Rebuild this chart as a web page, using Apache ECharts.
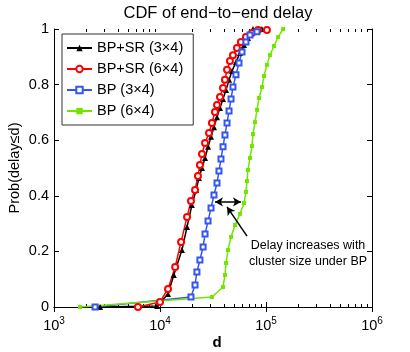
<!DOCTYPE html>
<html>
<head>
<meta charset="utf-8">
<script src="https://cdn.jsdelivr.net/npm/echarts@6/dist/echarts.min.js"></script>
<style>
  html, body { margin: 0; padding: 0; background: #fff; }
  #chart { width: 410px; height: 352px; }
</style>
</head>
<body>
<div id="chart"></div>
<script>
// 数据：横轴为时延 d，纵轴为累积概率
const seriesNames = ['BP+SR (3×4)', 'BP+SR (6×4)', 'BP (3×4)', 'BP (6×4)'];

const bpsr34D = [2720, 9380, 11900, 13500, 16100, 18000, 20000, 21900, 23300, 24900, 26600, 28400, 30300, 32300, 34500, 36800, 39300, 42000, 44800, 47800, 52100, 56800, 62000, 67600, 75400, 91600];
const bpsr34P = [0, 0.004, 0.047, 0.115, 0.205, 0.288, 0.367, 0.421, 0.464, 0.5, 0.536, 0.576, 0.612, 0.647, 0.683, 0.716, 0.748, 0.781, 0.817, 0.849, 0.881, 0.914, 0.942, 0.968, 1.0, 1.0];

const bpsr64D = [6200, 10000, 11900, 13900, 15800, 18000, 19600, 21400, 22800, 23800, 24900, 26600, 29000, 30900, 33000, 34500, 36800, 39300, 41000, 42900, 45700, 48800, 53200, 58000, 64700, 73700, 84100, 102000];
const bpsr64P = [0, 0.018, 0.065, 0.144, 0.234, 0.324, 0.381, 0.421, 0.471, 0.511, 0.55, 0.59, 0.626, 0.662, 0.701, 0.727, 0.755, 0.788, 0.817, 0.853, 0.885, 0.906, 0.932, 0.953, 0.971, 0.986, 0.996, 0.996];

const bp34D = [2440, 19600, 21400, 22300, 23800, 25500, 26600, 28400, 30300, 32300, 34500, 36000, 37600, 39300, 41000, 42900, 44800, 46800, 48800, 52100, 55600, 59400, 64700, 70600, 82200];
const bp34P = [0, 0.036, 0.079, 0.126, 0.169, 0.216, 0.263, 0.309, 0.356, 0.403, 0.446, 0.489, 0.532, 0.576, 0.619, 0.662, 0.705, 0.748, 0.791, 0.835, 0.878, 0.917, 0.953, 0.978, 0.99];

const bp64D = [1760, 30900, 39300, 41000, 42000, 43800, 46800, 51000, 56800, 62000, 64700, 66200, 67600, 70600, 73700, 75400, 78800, 82200, 85900, 91700, 95800, 102000, 109000, 119000, 130000, 145000];
const bp64P = [0, 0.036, 0.072, 0.115, 0.158, 0.205, 0.252, 0.295, 0.335, 0.374, 0.414, 0.453, 0.493, 0.536, 0.579, 0.622, 0.665, 0.709, 0.752, 0.791, 0.831, 0.871, 0.906, 0.939, 0.971, 1.0];

// 刻度
const xMajorTicks = [1e3, 1e4, 1e5, 1e6];
const xMinorTicks = [];
[1e3, 1e4, 1e5].forEach(base => {
    for (let k = 2; k <= 9; k++) xMinorTicks.push(base * k);
});
const yTicks = [0, 0.2, 0.4, 0.6, 0.8, 1];

// 标注（数据坐标）
const spanArrow = [[33000, 0.378], [58000, 0.378]];
const pointerArrow = [[66200, 0.255], [42900, 0.36]];
const noteText = 'Delay increases with\ncluster size under BP';

const FONT = 'Liberation Sans, Arial, sans-serif';

const zip = (xs, ys) => xs.map((x, i) => [x, ys[i]]);

const chart = echarts.init(document.getElementById('chart'), null, { renderer: 'canvas' });

const gridBox = { left: 54, right: 38, top: 29, bottom: 45, outerBoundsMode: 'none', containLabel: false };

const logXBase = {
    type: 'log',
    logBase: 10,
    min: 1e3,
    max: 1e6,
    splitLine: { show: false },
    minorTick: { show: false },
    minorSplitLine: { show: false }
};

const option = {
    animation: false,
    backgroundColor: '#fff',
    title: {
        text: 'CDF of end\u2212to\u2212end delay',
        left: 213,
        textAlign: 'center',
        top: 0,
        textStyle: { fontFamily: FONT, fontSize: 16.5, fontWeight: 'normal', color: '#000' }
    },
    legend: {
        orient: 'vertical',
        left: 62,
        top: 34,
        padding: [6, 10, 6, 4],
        itemWidth: 25,
        itemHeight: 8,
        itemGap: 5,
        backgroundColor: '#fff',
        borderColor: '#333',
        borderWidth: 1,
        borderRadius: 0,
        textStyle: { fontFamily: FONT, fontSize: 14.5, color: '#000', lineHeight: 16 },
        data: seriesNames
    },
    grid: [gridBox, Object.assign({}, gridBox)],
    xAxis: [
        Object.assign({}, logXBase, {
            gridIndex: 0,
            position: 'bottom',
            name: 'd',
            nameLocation: 'middle',
            nameGap: 16,
            nameMoveOverlap: false,
            nameTextStyle: { fontFamily: FONT, fontSize: 15, fontWeight: 'bold', color: '#000', padding: [12, 0, 0, 8] },
            axisLine: { show: true, lineStyle: { color: '#000', width: 1 } },
            axisTick: { show: true, inside: true, length: 5, lineStyle: { color: '#000' } },
            axisLabel: {
                show: true,
                margin: 9,
                formatter: v => '{b|10}{s|' + Math.round(Math.log10(v)) + '}',
                rich: {
                    b: { fontFamily: FONT, fontSize: 14.5, color: '#000', verticalAlign: 'bottom' },
                    s: { fontFamily: FONT, fontSize: 10, color: '#000', verticalAlign: 'top', padding: [0, 0, 7, 0] }
                }
            }
        }),
        Object.assign({}, logXBase, {
            gridIndex: 0,
            position: 'top',
            axisLine: { show: true, lineStyle: { color: '#000', width: 1 } },
            axisTick: { show: true, inside: true, length: 5, lineStyle: { color: '#000' } },
            axisLabel: { show: false }
        }),
        // 次刻度
        Object.assign({}, logXBase, {
            gridIndex: 1,
            position: 'bottom',
            axisLine: { show: false },
            axisTick: { show: true, inside: true, length: 3, customValues: xMinorTicks, lineStyle: { color: '#000' } },
            axisLabel: { show: false }
        }),
        Object.assign({}, logXBase, {
            gridIndex: 1,
            position: 'top',
            axisLine: { show: false },
            axisTick: { show: true, inside: true, length: 3, customValues: xMinorTicks, lineStyle: { color: '#000' } },
            axisLabel: { show: false }
        })
    ],
    yAxis: [
        {
            gridIndex: 0,
            type: 'value',
            position: 'left',
            min: 0,
            max: 1,
            interval: 0.2,
            name: 'Prob(delay\u2264d)',
            nameLocation: 'middle',
            nameGap: 32,
            nameMoveOverlap: false,
            nameRotate: 90,
            nameTextStyle: { fontFamily: FONT, fontSize: 14.5, color: '#000' },
            splitLine: { show: false },
            axisLine: { show: true, lineStyle: { color: '#000', width: 1 } },
            axisTick: { show: true, inside: true, length: 5, lineStyle: { color: '#000' } },
            axisLabel: {
                fontFamily: FONT, fontSize: 14.5, color: '#000', margin: 5,
                customValues: yTicks
            }
        },
        {
            gridIndex: 0,
            type: 'value',
            position: 'right',
            min: 0,
            max: 1,
            interval: 0.2,
            splitLine: { show: false },
            axisLine: { show: true, lineStyle: { color: '#000', width: 1 } },
            axisTick: { show: true, inside: true, length: 5, lineStyle: { color: '#000' } },
            axisLabel: { show: false }
        },
        { gridIndex: 1, type: 'value', min: 0, max: 1, show: false }
    ],
    graphic: [
        {
            type: 'text',
            x: 308,
            y: 238,
            style: {
                text: noteText,
                fontFamily: FONT,
                fontSize: 12.5,
                lineHeight: 16,
                fill: '#000',
                align: 'center'
            }
        }
    ],
    series: [
        {
            name: seriesNames[0],
            type: 'line',
            data: zip(bpsr34D, bpsr34P),
            symbol: 'triangle',
            symbolSize: 6,
            lineStyle: { color: '#000', width: 1.5 },
            itemStyle: { color: '#000' }
        },
        {
            name: seriesNames[1],
            type: 'line',
            data: zip(bpsr64D, bpsr64P),
            symbol: 'emptyCircle',
            symbolSize: 6,
            lineStyle: { color: '#ff0000', width: 1.5 },
            itemStyle: { color: '#ff0000', borderWidth: 1.5 }
        },
        {
            name: seriesNames[2],
            type: 'line',
            data: zip(bp34D, bp34P),
            symbol: 'emptyRect',
            symbolSize: 5,
            lineStyle: { color: '#3355f0', width: 1.5 },
            itemStyle: { color: '#3355f0', borderWidth: 1.5 }
        },
        {
            name: seriesNames[3],
            type: 'line',
            data: zip(bp64D, bp64P),
            symbol: 'rect',
            symbolSize: 4,
            lineStyle: { color: '#70e600', width: 1.5 },
            itemStyle: { color: '#70e600' },
            markLine: {
                silent: true,
                animation: false,
                label: { show: false },
                lineStyle: { color: '#000', width: 1.5, type: 'solid' },
                symbolSize: [7, 8],
                data: [
                    [
                        { coord: spanArrow[0], symbol: 'arrow' },
                        { coord: spanArrow[1], symbol: 'arrow' }
                    ],
                    [
                        { coord: pointerArrow[0], symbol: 'none' },
                        { coord: pointerArrow[1], symbol: 'arrow' }
                    ]
                ]
            }
        }
    ]
};

chart.setOption(option);

window.addEventListener('resize', () => {
    chart.resize();
});
</script>
</body>
</html>
